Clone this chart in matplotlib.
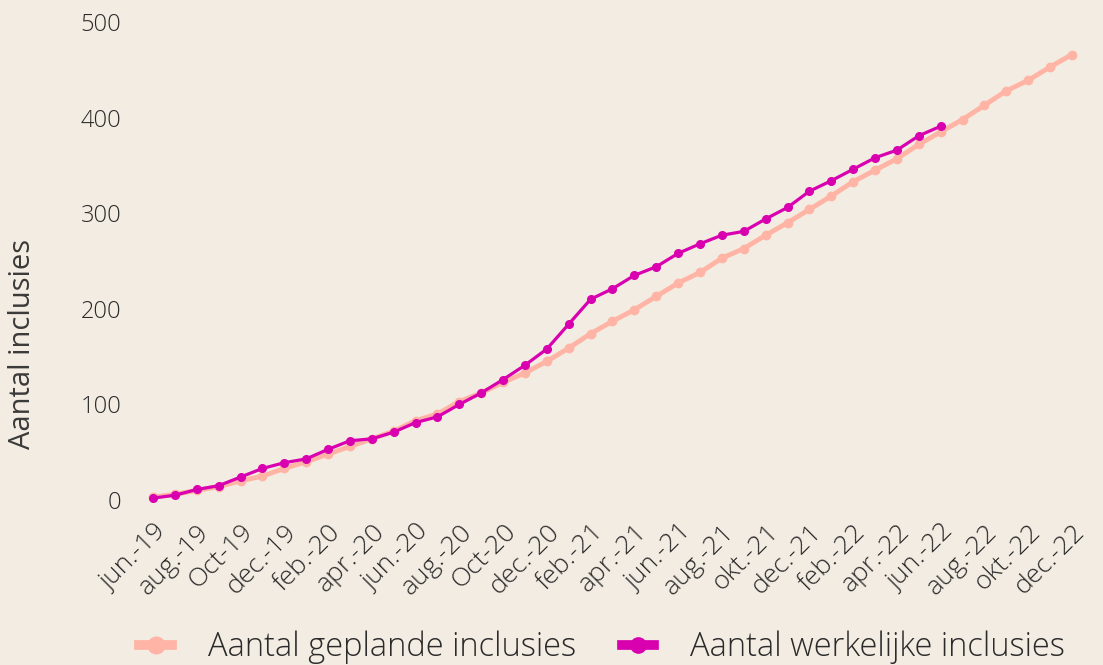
import numpy as np
import matplotlib
matplotlib.use('Agg')
import matplotlib.pyplot as plt
import matplotlib.transforms as mtransforms

months = ['jun.-19', 'jul.-19', 'aug.-19', 'sep.-19', 'Oct-19', 'nov.-19', 'dec.-19',
          'jan.-20', 'feb.-20', 'mrt.-20', 'apr.-20', 'mei-20', 'jun.-20', 'jul.-20',
          'aug.-20', 'sep.-20', 'Oct-20', 'nov.-20', 'dec.-20', 'jan.-21', 'feb.-21',
          'mrt.-21', 'apr.-21', 'mei-21', 'jun.-21', 'jul.-21', 'aug.-21', 'sep.-21',
          'okt.-21', 'nov.-21', 'dec.-21', 'jan.-22', 'feb.-22', 'mrt.-22', 'apr.-22',
          'mei-22', 'jun.-22', 'jul.-22', 'aug.-22', 'sep.-22', 'okt.-22', 'nov.-22',
          'dec.-22']

gepland = [3, 6, 10, 14, 20, 25, 33, 40, 48, 56, 64, 72, 83, 90, 103, 112, 123, 133,
           145, 159, 174, 187, 199, 213, 227, 238, 253, 263, 277, 290, 304, 318, 333,
           345, 357, 372, 385, 398, 413, 428, 439, 453, 466]

werkelijk = [2, 5, 11, 15, 24, 33, 39, 43, 53, 62, 64, 71, 81, 87, 100, 112, 126, 141,
             158, 184, 210, 221, 235, 244, 258, 268, 277, 281, 294, 306, 323, 334, 346,
             358, 366, 381, 391]

bg = '#f3ece2'
c_plan = '#ffb4a5'
c_act = '#d900b0'

plt.rcParams['font.family'] = ['Open Sans', 'DejaVu Sans']
plt.rcParams['font.weight'] = 'light'

fig = plt.figure(figsize=(11.03, 6.65), dpi=100, facecolor=bg)
ax = fig.add_axes([0.1288, 0.2481, 0.8530, 0.7188], facecolor=bg)

x_plan = np.arange(len(gepland))
x_act = np.arange(len(werkelijk))
ax.plot(x_plan, gepland, color=c_plan, lw=3.5, marker='o', ms=6,
        label='Aantal geplande inclusies', clip_on=False)
ax.plot(x_act, werkelijk, color=c_act, lw=2.3, marker='o', ms=5.5,
        label='Aantal werkelijke inclusies', clip_on=False)

ax.set_xlim(-0.5, 42.5)
ax.set_ylim(0, 500)
ax.set_yticks([0, 100, 200, 300, 400, 500])
ax.set_xticks(x_plan[::2])
ax.set_xticklabels(months[::2], rotation=45, ha='right', rotation_mode='anchor',
                   fontsize=19, color='#2a2a2a')
# shift the rotated labels a bit to the right, like the original
shift = mtransforms.ScaledTranslation(8 / 72, 0, fig.dpi_scale_trans)
for lab in ax.get_xticklabels():
    lab.set_transform(lab.get_transform() + shift)
ax.tick_params(axis='y', length=0, pad=15, labelsize=17, labelcolor='#2a2a2a')
ax.tick_params(axis='x', length=0, pad=14)
for s in ax.spines.values():
    s.set_visible(False)

ax.set_ylabel('Aantal inclusies', fontsize=21, color='#3a3a3a')
ax.yaxis.set_label_coords(-0.112, 0.326)

leg = fig.legend(loc='center', bbox_to_anchor=(0.546, 0.026), ncol=2, frameon=False,
                 fontsize=23.5, handlelength=1.0, handletextpad=1.1, columnspacing=1.4,
                 markerscale=2.0)
for h in leg.get_lines():
    h.set_linewidth(7)
for t in leg.get_texts():
    t.set_color('#2a2a2a')

plt.savefig('out.png', dpi=100, facecolor=bg)
